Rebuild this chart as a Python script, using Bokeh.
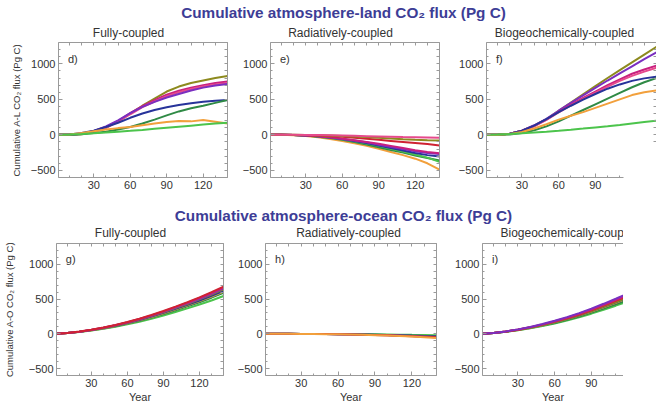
from bokeh.plotting import figure
from bokeh.layouts import column, row
from bokeh.models import Range1d, Label, FixedTicker, LinearAxis
from bokeh.embed import file_html
from bokeh.resources import INLINE

FONT = "Liberation Sans"

YEARS = [0, 10, 20, 30, 40, 50, 60, 70, 80, 90, 100, 110, 120, 130, 140]
X_TICKS = [30, 60, 90, 120]
X_TICKS_CUT = [30, 60, 90]
Y_TICKS = [-500, 0, 500, 1000]

COLORS = {
    "olive": "#8d8a1e", "magenta": "#c8207f", "pink": "#e64a8c", "purple": "#7a2fc0",
    "blue": "#27339a", "darkgreen": "#2f8a45", "orange": "#f2a03c", "green": "#4cc44c",
    "red": "#cf2232",
}

# Panel d: land, fully-coupled
LAND_FULL = {
    "olive":     [0, 0, 10, 40, 100, 190, 300, 410, 510, 610, 680, 730, 765, 800, 830],
    "magenta":   [0, 0, 15, 50, 110, 195, 305, 405, 490, 565, 620, 665, 700, 730, 750],
    "pink":      [0, 0, 12, 45, 100, 185, 290, 390, 470, 545, 600, 645, 680, 710, 730],
    "purple":    [0, 0, 15, 55, 120, 205, 305, 395, 465, 525, 575, 625, 665, 695, 715],
    "blue":      [0, 5, 25, 60, 110, 170, 240, 300, 350, 390, 420, 445, 465, 480, 490],
    "darkgreen": [0, 2, 10, 25, 45, 75, 110, 160, 215, 275, 330, 375, 410, 450, 490],
    "orange":    [0, 5, 25, 50, 75, 95, 110, 135, 160, 180, 195, 190, 210, 185, 160],
    "green":     [0, 5, 12, 22, 33, 45, 57, 70, 85, 100, 115, 130, 145, 160, 170],
}
# Panel e: land, radiatively-coupled
LAND_RAD = {
    "orange":    [0, 0, -5, -15, -35, -60, -85, -120, -155, -195, -240, -285, -335, -400, -490],
    "darkgreen": [0, 0, -3, -10, -25, -45, -70, -100, -135, -175, -215, -250, -290, -325, -360],
    "green":     [0, 0, -3, -10, -22, -40, -62, -90, -120, -155, -195, -235, -275, -320, -380],
    "blue":      [0, 0, -2, -8, -20, -38, -60, -85, -115, -150, -185, -220, -255, -285, -305],
    "purple":    [0, 0, -2, -8, -20, -38, -58, -80, -105, -140, -170, -200, -230, -255, -270],
    "magenta":   [0, 0, -2, -7, -18, -35, -55, -75, -100, -125, -155, -185, -215, -240, -260],
    "red":       [0, 0, -1, -4, -10, -18, -28, -40, -55, -70, -85, -100, -115, -130, -150],
    "olive":     [0, 0, 0, -2, -5, -10, -15, -22, -30, -40, -50, -60, -68, -75, -80],
    "pink":      [0, 0, 0, -1, -3, -6, -10, -14, -18, -22, -26, -30, -33, -36, -40],
}
# Panel f: land, biogeochemically-coupled
LAND_BGC = {
    "olive":     [0, 0, 15, 60, 130, 220, 340, 455, 570, 685, 800, 910, 1020, 1130, 1240],
    "purple":    [0, 0, 15, 60, 135, 225, 340, 450, 555, 660, 765, 865, 965, 1065, 1160],
    "magenta":   [0, 0, 15, 58, 125, 215, 325, 425, 520, 610, 700, 780, 860, 920, 975],
    "pink":      [0, 0, 15, 55, 120, 210, 315, 415, 505, 595, 680, 760, 830, 890, 945],
    "blue":      [0, 0, 15, 58, 130, 220, 320, 410, 495, 575, 650, 710, 760, 795, 820],
    "darkgreen": [0, 0, 5, 25, 65, 120, 190, 270, 350, 430, 510, 590, 670, 740, 800],
    "orange":    [0, 2, 12, 40, 90, 150, 215, 270, 320, 380, 440, 500, 560, 600, 625],
    "green":     [0, 5, 12, 22, 33, 45, 58, 72, 88, 105, 122, 140, 160, 180, 200],
}
# Panel g: ocean, fully-coupled
OCEAN_FULL = {
    "green":     [0, 10, 26, 47, 72, 102, 136, 174, 217, 264, 315, 366, 421, 480, 545],
    "darkgreen": [0, 11, 28, 51, 78, 110, 147, 189, 235, 285, 340, 396, 455, 520, 590],
    "orange":    [0, 11, 28, 52, 81, 114, 152, 195, 242, 295, 352, 409, 470, 537, 608],
    "blue":      [0, 12, 29, 53, 82, 116, 155, 199, 247, 301, 359, 417, 480, 548, 620],
    "olive":     [0, 12, 30, 55, 85, 120, 160, 205, 255, 310, 370, 430, 495, 565, 640],
    "purple":    [0, 12, 31, 56, 87, 122, 163, 209, 260, 316, 377, 439, 505, 576, 653],
    "magenta":   [0, 12, 31, 57, 88, 125, 166, 213, 265, 322, 385, 447, 515, 588, 666],
    "red":       [0, 13, 32, 58, 90, 127, 170, 217, 270, 329, 392, 456, 525, 599, 680],
}
# Panel h: ocean, radiatively-coupled
OCEAN_RAD = {
    "green":     [0, 0, 0, -1, -1, -2, -3, -4, -6, -8, -10, -12, -15, -17, -20],
    "blue":      [0, 0, 0, -1, -2, -3, -5, -7, -10, -13, -17, -21, -26, -30, -35],
    "darkgreen": [0, 0, 0, -1, -2, -3, -5, -7, -10, -14, -18, -23, -28, -35, -42],
    "purple":    [0, 0, 0, -1, -2, -4, -6, -9, -12, -16, -21, -26, -32, -38, -45],
    "red":       [0, 0, 0, -1, -2, -4, -6, -9, -13, -17, -22, -28, -34, -41, -48],
    "orange":    [0, 0, 0, -1, -3, -5, -8, -11, -15, -20, -26, -33, -40, -49, -60],
}
# Panel i: ocean, biogeochemically-coupled
OCEAN_BGC = {
    "green":     [0, 11, 28, 51, 79, 112, 149, 191, 238, 290, 346, 405, 466, 533, 605],
    "darkgreen": [0, 11, 29, 53, 83, 118, 157, 201, 250, 305, 364, 426, 490, 560, 635],
    "orange":    [0, 12, 31, 56, 87, 124, 165, 212, 263, 320, 382, 446, 515, 588, 668],
    "blue":      [0, 12, 31, 57, 89, 126, 168, 216, 268, 326, 390, 455, 525, 600, 680],
    "olive":     [0, 12, 32, 58, 90, 128, 170, 218, 270, 328, 392, 458, 528, 604, 685],
    "red":       [0, 13, 33, 60, 93, 132, 176, 225, 279, 340, 406, 474, 547, 625, 710],
    "magenta":   [0, 13, 34, 62, 96, 136, 181, 232, 288, 350, 418, 488, 563, 644, 730],
    "purple":    [0, 13, 35, 64, 99, 141, 188, 240, 298, 362, 432, 505, 582, 666, 755],
}

TITLE_LAND = "Cumulative atmosphere-land CO\u2082 flux (Pg C)"
TITLE_OCEAN = "Cumulative atmosphere-ocean CO\u2082 flux (Pg C)"
SUBTITLES_TOP = ["Fully-coupled", "Radiatively-coupled", "Biogeochemically-coupled"]
SUBTITLES_BOTTOM = ["Fully-coupled", "Radiatively-coupled", "Biogeochemically-coup"]
YLABEL_LAND = "Cumulative A-L CO\u2082 flux (Pg C)"
YLABEL_OCEAN = "Cumulative A-O CO\u2082 flux (Pg C)"
TAGS = ["d)", "e)", "f)", "g)", "h)", "i)"]

Y_START, Y_END = -600, 1300
TITLE_COLOR = "#3d3d96"
TEXT_COLOR = "#333333"
FRAME_COLOR = "#9a9a9a"


def header(width, height, title, title_y, subs, sub_y):
    p = figure(width=width, height=height, x_range=Range1d(0, width), y_range=Range1d(height, 0),
               x_axis_location=None, y_axis_location=None, min_border=0,
               output_backend="svg", toolbar_location=None)
    p.grid.visible = False
    p.outline_line_color = None
    p.add_layout(Label(x=343, y=title_y, text=title, text_font=FONT, text_font_style="bold",
                       text_font_size="15.3px", text_color=TITLE_COLOR,
                       text_align="center", text_baseline="middle"))
    for sx, st, al in subs:
        p.add_layout(Label(x=sx, y=sub_y, text=st, text_font=FONT, text_font_size="12px",
                           text_color=TEXT_COLOR, text_align=al, text_baseline="middle"))
    return p


def style_axis(ax, ticks, minor):
    ax.ticker = FixedTicker(ticks=ticks, minor_ticks=minor)
    ax.axis_line_color = FRAME_COLOR
    ax.major_tick_line_color = FRAME_COLOR
    ax.minor_tick_line_color = FRAME_COLOR
    ax.major_tick_in = 4
    ax.major_tick_out = 0
    ax.minor_tick_in = 2
    ax.minor_tick_out = 0
    ax.major_label_text_font = FONT
    ax.major_label_text_font_size = "11px"
    ax.major_label_text_color = TEXT_COLOR
    ax.major_label_standoff = 3


def mirror_axis(minor, bounds=None):
    ax = LinearAxis(ticker=FixedTicker(ticks=[], minor_ticks=minor))
    ax.axis_line_color = FRAME_COLOR
    ax.minor_tick_line_color = FRAME_COLOR
    ax.minor_tick_in = 3
    ax.minor_tick_out = 0
    ax.major_tick_in = 0
    ax.major_tick_out = 0
    ax.major_label_standoff = 0
    if bounds is not None:
        ax.bounds = bounds
    return ax


def panel(data, tag, ml, fw, mr, mt, fh, mb, x_end, ylabel=None, xlabel=None,
          ylabel_standoff=6, right_side=True, cut=None):
    p = figure(width=ml + fw + mr, height=mt + fh + mb,
               x_range=Range1d(1, x_end), y_range=Range1d(Y_START, Y_END),
               min_border_left=ml, min_border_right=mr, min_border_top=mt, min_border_bottom=mb,
               output_backend="svg", toolbar_location=None)
    p.grid.visible = False
    p.outline_line_color = None
    xax = p.xaxis[0]
    yax = p.yaxis[0]
    if cut:
        style_axis(xax, X_TICKS_CUT, [v for v in range(10, 141, 10) if v <= cut[0]])
        xax.bounds = (1, cut[0])
    else:
        style_axis(xax, X_TICKS, list(range(10, 141, 10)))
    style_axis(yax, Y_TICKS, list(range(-600, 1301, 100)))
    p.add_layout(mirror_axis(list(range(10, 141, 10))), "above")
    if right_side:
        if cut:
            p.add_layout(mirror_axis([v for v in range(-600, 1301, 100) if v >= cut[1]],
                                     bounds=(cut[1], Y_END)), "right")
        else:
            p.add_layout(mirror_axis(list(range(-600, 1301, 100))), "right")
    if ylabel:
        yax.axis_label = ylabel
        yax.axis_label_text_font = FONT
        yax.axis_label_text_font_size = "9.5px"
        yax.axis_label_text_font_style = "normal"
        yax.axis_label_text_color = TEXT_COLOR
        yax.axis_label_standoff = ylabel_standoff
    if xlabel:
        xax.axis_label = xlabel
        xax.axis_label_text_font = FONT
        xax.axis_label_text_font_size = "11px"
        xax.axis_label_text_font_style = "normal"
        xax.axis_label_text_color = TEXT_COLOR
        xax.axis_label_standoff = 1
    for name, vals in data.items():
        p.line(YEARS, vals, line_color=COLORS[name], line_width=2)
    p.add_layout(Label(x=8.8, y=1070, text=tag, text_font=FONT, text_font_size="11px",
                       text_color=TEXT_COLOR, text_baseline="middle"))
    return p


h1 = header(656, 40, TITLE_LAND, 12,
            [(128, SUBTITLES_TOP[0], "center"), (340, SUBTITLES_TOP[1], "center"),
             (564, SUBTITLES_TOP[2], "center")], 32)
d = panel(LAND_FULL, TAGS[0], 58, 169, 8, 2, 135, 23, 140, ylabel=YLABEL_LAND, ylabel_standoff=6)
e = panel(LAND_RAD, TAGS[1], 35, 169, 10, 2, 135, 23, 140)
f = panel(LAND_BGC, TAGS[2], 37, 170, 0, 2, 135, 23, 140, cut=(113, -104))

h2 = header(623, 41, TITLE_OCEAN, 15,
            [(130, SUBTITLES_BOTTOM[0], "center"), (348, SUBTITLES_BOTTOM[1], "center"),
             (500, SUBTITLES_BOTTOM[2], "left")], 32)
g = panel(OCEAN_FULL, TAGS[3], 53, 170, 6, 2, 136, 26, 140, ylabel=YLABEL_OCEAN, xlabel="Year",
          ylabel_standoff=11)
h = panel(OCEAN_RAD, TAGS[4], 36, 171, 10, 2, 136, 26, 140, xlabel="Year")
i = panel(OCEAN_BGC, TAGS[5], 36, 141, 0, 2, 136, 26, 116.3, xlabel="Year", right_side=False)

layout = column(h1, row(d, e, f), h2, row(g, h, i))

open("out.html", "w").write(file_html(layout, INLINE))
